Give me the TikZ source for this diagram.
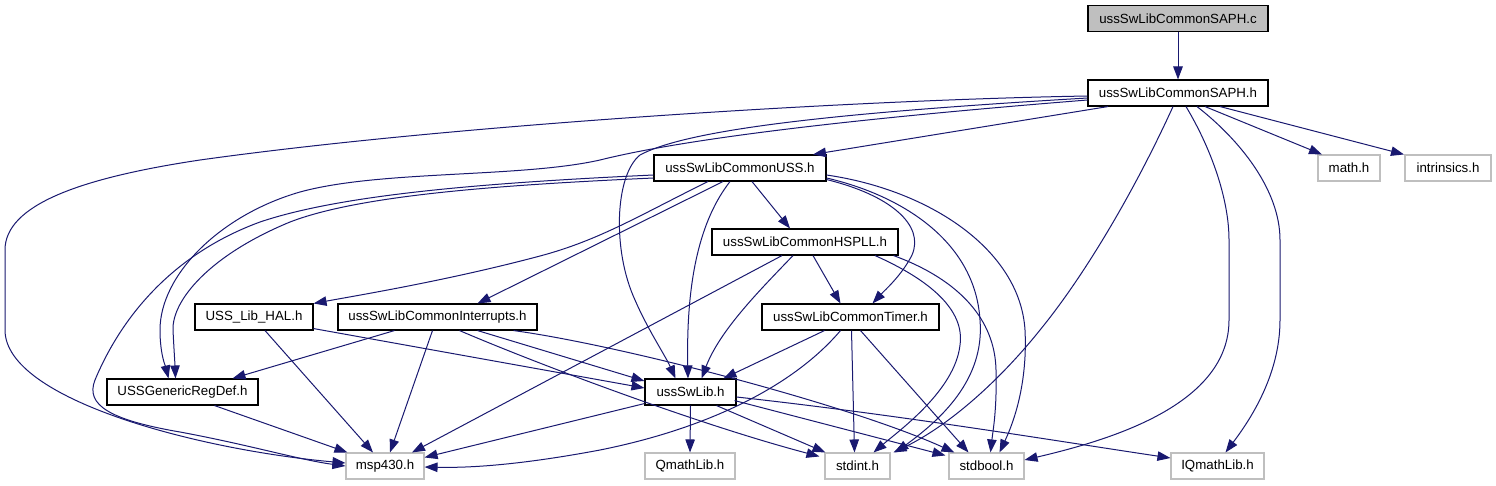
\documentclass[tikz,border=0pt]{standalone}
\usepackage{fontspec}
\setmainfont{Liberation Sans}
\usetikzlibrary{arrows.meta}
\definecolor{edgecol}{HTML}{191970}
\definecolor{extgray}{HTML}{BFBFBF}
\definecolor{srcfill}{HTML}{BFBFBF}
\begin{document}
\begin{tikzpicture}[x=1pt,y=-1pt,
  hdr/.style={draw=black, line width=1.1pt, fill=white, inner sep=0pt,
    minimum height=26pt, font=\fontsize{13.3}{16}\selectfont, text=black},
  ext/.style={hdr, draw=extgray},
  src/.style={hdr, fill=srcfill},
  dep/.style={draw=edgecol, line width=1pt, -{Triangle[length=13pt,width=9.5pt]}}]
\fill[white] (0,0) rectangle (1496,485);
\useasboundingbox (0,0) rectangle (1496,485);

% nodes
\node[src, minimum width=180pt] (c) at (1178,18.5) {ussSwLibCommonSAPH.c};
\node[hdr, minimum width=180pt] (saph) at (1178,93) {ussSwLibCommonSAPH.h};
\node[ext, minimum width=62pt] (math) at (1349,168) {math.h};
\node[ext, minimum width=86pt] (intr) at (1448,168) {intrinsics.h};
\node[hdr, minimum width=172pt] (uss) at (740,168) {ussSwLibCommonUSS.h};
\node[hdr, minimum width=186pt] (hspll) at (805,242) {ussSwLibCommonHSPLL.h};
\node[hdr, minimum width=177pt] (timer) at (850.5,317) {ussSwLibCommonTimer.h};
\node[hdr, minimum width=118pt] (hal) at (254,317) {USS\_Lib\_HAL.h};
\node[hdr, minimum width=199pt] (intrh) at (437.5,317) {ussSwLibCommonInterrupts.h};
\node[hdr, minimum width=151pt] (regdef) at (182.5,392) {USSGenericRegDef.h};
\node[hdr, minimum width=91pt] (sw) at (690.5,392) {ussSwLib.h};
\node[ext, minimum width=78pt] (msp) at (385,466) {msp430.h};
\node[ext, minimum width=90pt] (qmath) at (690,466) {QmathLib.h};
\node[ext, minimum width=65pt] (stdint) at (857.5,466) {stdint.h};
\node[ext, minimum width=75pt] (stdbool) at (986.5,466) {stdbool.h};
\node[ext, minimum width=93pt] (iq) at (1217.5,466) {IQmathLib.h};

% ussSwLibCommonSAPH.c / .h
\draw[dep] (c.south) -- (saph.north);
\draw[dep] ([shift={(27,0)}]saph.south) -- ([shift={(-27,0)}]math.north);
\draw[dep] ([shift={(42,0)}]saph.south) -- ([shift={(-44,0)}]intr.north);
\draw[dep] ([shift={(-70,0)}]saph.south) -- ([shift={(73,0)}]uss.north);
\draw[dep] ([shift={(19,0)}]saph.south) .. controls (1240,140) and (1280,190) .. (1280,240) -- (1280,320) .. controls (1280,375) and (1250,420) .. ([shift={(8,0)}]iq.north);
\draw[dep] ([shift={(8,0)}]saph.south) .. controls (1212,150) and (1229,200) .. (1229,240) -- (1229,320) .. controls (1229,405) and (1110,440) .. ([shift={(0,-6)}]stdbool.east);
\draw[dep] ([shift={(-5,0)}]saph.south) .. controls (1135,190) and (1085,275) .. (1040,330) .. controls (1000,380) and (950,425) .. ([shift={(36,0)}]stdint.north);
\draw[dep] ([shift={(0,5)}]saph.west) .. controls (850,112) and (690,128) .. (640,155) .. controls (615,175) and (612,250) .. (635,300) .. controls (648,330) and (665,355) .. ([shift={(-15,0)}]sw.north);
\draw[dep] ([shift={(0,7)}]saph.west) .. controls (900,115) and (700,135) .. (600,160) .. controls (520,178) and (380,170) .. (300,192) .. controls (220,215) and (160,275) .. (160,330) .. controls (160,355) and (166,368) .. ([shift={(-14,0)}]regdef.north);
\draw[dep] ([shift={(0,3)}]saph.west) .. controls (850,100) and (450,125) .. (200,160) .. controls (80,178) and (5,205) .. (5,250) -- (5,330) .. controls (5,400) and (200,450) .. ([shift={(0,-3)}]msp.west);

% ussSwLibCommonUSS.h
\draw[dep] ([shift={(12,0)}]uss.south) -- ([shift={(-15,0)}]hspll.north);
\draw[dep] ([shift={(0,-2)}]uss.south east) .. controls (890,195) and (925,225) .. (912,255) .. controls (902,275) and (885,290) .. ([shift={(22,0)}]timer.north);
\draw[dep] ([shift={(-10,0)}]uss.south) .. controls (700,220) and (686,280) .. ([shift={(-2.5,0)}]sw.north);
\draw[dep] ([shift={(-32,0)}]uss.south) .. controls (640,215) and (600,240) .. (540,256) .. controls (450,280) and (360,295) .. (hal.north east);
\draw[dep] ([shift={(-17,0)}]uss.south) -- ([shift={(40,0)}]intrh.north);
\draw[dep] ([shift={(0,10)}]uss.west) .. controls (500,185) and (360,195) .. (290,222) .. controls (210,255) and (172,300) .. (173,330) .. controls (174,350) and (175,365) .. ([shift={(-7,0)}]regdef.north);
\draw[dep] ([shift={(0,7)}]uss.west) .. controls (480,183) and (340,195) .. (260,222) .. controls (170,255) and (120,320) .. (95,380) .. controls (85,405) and (110,420) .. (180,432) .. controls (250,445) and (300,460) .. (msp.west);
\draw[dep] ([shift={(0,10)}]uss.east) .. controls (900,195) and (975,240) .. (980,320) .. controls (985,380) and (940,420) .. ([shift={(38,0)}]stdint.north);
\draw[dep] ([shift={(0,7)}]uss.east) .. controls (930,190) and (1020,250) .. (1025,330) .. controls (1028,390) and (1010,430) .. ([shift={(13,0)}]stdbool.north);

% ussSwLibCommonHSPLL.h
\draw[dep] ([shift={(8,0)}]hspll.south) -- ([shift={(-10,0)}]timer.north);
\draw[dep] ([shift={(-12,0)}]hspll.south) .. controls (760,290) and (720,330) .. ([shift={(11,0)}]sw.north);
\draw[dep] ([shift={(-23,0)}]hspll.south) -- ([shift={(27,0)}]msp.north);
\draw[dep] ([shift={(70,0)}]hspll.south) .. controls (930,280) and (965,310) .. (960,345) .. controls (955,390) and (900,430) .. ([shift={(16,0)}]stdint.north);
\draw[dep] ([shift={(-5,0)}]hspll.south east) .. controls (960,280) and (995,320) .. (996,370) .. controls (997,410) and (993,430) .. ([shift={(4,0)}]stdbool.north);

% ussSwLibCommonTimer.h
\draw[dep] ([shift={(-26,0)}]timer.south) -- ([shift={(33,0)}]sw.north);
\draw[dep] ([shift={(-10,0)}]timer.south) .. controls (790,390) and (700,430) .. (600,450) .. controls (520,465) and (470,468) .. ([shift={(0,1)}]msp.east);
\draw[dep] ([shift={(1,0)}]timer.south) -- ([shift={(-3,0)}]stdint.north);
\draw[dep] ([shift={(10,0)}]timer.south) -- ([shift={(-18,0)}]stdbool.north);

% USS_Lib_HAL.h
\draw[dep] ([shift={(0,-2)}]hal.south east) -- ([shift={(0,-4)}]sw.west);
\draw[dep] ([shift={(11,0)}]hal.south) -- ([shift={(-12,0)}]msp.north);

% ussSwLibCommonInterrupts.h
\draw[dep] ([shift={(-43,0)}]intrh.south) -- ([shift={(50,0)}]regdef.north);
\draw[dep] ([shift={(-5,0)}]intrh.south) -- ([shift={(5,0)}]msp.north);
\draw[dep] ([shift={(40,0)}]intrh.south) -- ([shift={(0,-11)}]sw.west);
\draw[dep] ([shift={(22,0)}]intrh.south) .. controls (540,365) and (700,425) .. ([shift={(-5,4)}]stdint.north west);
\draw[dep] ([shift={(-24,0)}]intrh.south east) .. controls (620,345) and (850,405) .. ([shift={(6,0)}]stdbool.north west);

% ussSwLib.h
\draw[dep] (sw.south) -- (qmath.north);
\draw[dep] ([shift={(0,-2)}]sw.south west) -- ([shift={(0,5)}]msp.north east);
\draw[dep] ([shift={(26,0)}]sw.south) -- ([shift={(1,0)}]stdint.north west);
\draw[dep] ([shift={(-2,-5)}]sw.south east) -- ([shift={(-3,3)}]stdbool.north west);
\draw[dep] ([shift={(0,5)}]sw.east) .. controls (900,415) and (1050,440) .. ([shift={(0,-8)}]iq.west);

% USSGenericRegDef.h
\draw[dep] ([shift={(32,0)}]regdef.south) -- ([shift={(2,0)}]msp.north west);
\end{tikzpicture}
\end{document}
